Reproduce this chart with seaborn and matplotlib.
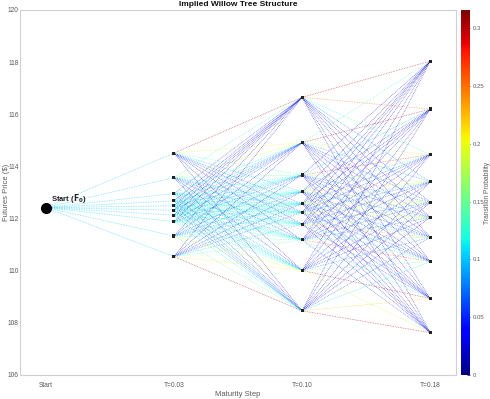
import numpy as np
import pandas as pd
import matplotlib
matplotlib.use("Agg")
import matplotlib.pyplot as plt
import seaborn as sns

# ---------------- data ----------------
steps = ["Start", "T=0.03", "T=0.10", "T=0.18"]

start_price = [112.42]
nodes_t003 = [114.51, 113.57, 112.96, 112.68, 112.49, 112.32, 112.13, 111.88, 111.33, 110.54]
nodes_t010 = [116.65, 114.91, 113.67, 113.03, 112.57, 112.24, 111.78, 111.18, 110.01, 108.46]
nodes_t018 = [118.04, 116.20, 114.46, 113.41, 112.62, 112.04, 111.28, 110.35, 108.93, 107.62]

# start -> T=0.03
p_start = [0.10, 0.10, 0.10, 0.10, 0.10, 0.10, 0.10, 0.10, 0.10, 0.10]

# T=0.03 -> T=0.10 (rows: from node, top to bottom)
p_step1 = [
    [0.30, 0.20, 0.14, 0.10, 0.07, 0.06, 0.05, 0.04, 0.02, 0.02],
    [0.13, 0.20, 0.14, 0.12, 0.10, 0.09, 0.08, 0.06, 0.05, 0.03],
    [0.05, 0.12, 0.13, 0.12, 0.11, 0.11, 0.11, 0.10, 0.09, 0.06],
    [0.04, 0.09, 0.12, 0.12, 0.12, 0.12, 0.11, 0.10, 0.10, 0.08],
    [0.03, 0.08, 0.11, 0.12, 0.13, 0.13, 0.12, 0.11, 0.10, 0.07],
    [0.03, 0.07, 0.10, 0.12, 0.13, 0.13, 0.12, 0.12, 0.11, 0.07],
    [0.03, 0.06, 0.09, 0.11, 0.12, 0.13, 0.13, 0.12, 0.12, 0.09],
    [0.02, 0.05, 0.08, 0.10, 0.11, 0.12, 0.13, 0.14, 0.13, 0.12],
    [0.02, 0.04, 0.06, 0.08, 0.09, 0.10, 0.12, 0.14, 0.20, 0.15],
    [0.02, 0.02, 0.04, 0.05, 0.06, 0.07, 0.10, 0.14, 0.20, 0.30],
]

# T=0.10 -> T=0.18
p_step2 = [
    [0.30, 0.25, 0.13, 0.08, 0.05, 0.04, 0.03, 0.03, 0.02, 0.02],
    [0.14, 0.30, 0.18, 0.09, 0.06, 0.05, 0.04, 0.03, 0.02, 0.02],
    [0.03, 0.10, 0.27, 0.17, 0.08, 0.06, 0.05, 0.04, 0.03, 0.03],
    [0.02, 0.05, 0.14, 0.21, 0.17, 0.09, 0.06, 0.05, 0.03, 0.03],
    [0.02, 0.03, 0.07, 0.15, 0.20, 0.17, 0.08, 0.05, 0.03, 0.02],
    [0.02, 0.03, 0.05, 0.08, 0.17, 0.20, 0.15, 0.07, 0.04, 0.03],
    [0.02, 0.03, 0.04, 0.06, 0.08, 0.17, 0.22, 0.13, 0.06, 0.03],
    [0.02, 0.03, 0.03, 0.04, 0.06, 0.08, 0.15, 0.26, 0.14, 0.06],
    [0.02, 0.02, 0.03, 0.03, 0.04, 0.05, 0.08, 0.15, 0.30, 0.19],
    [0.02, 0.02, 0.02, 0.03, 0.03, 0.04, 0.06, 0.11, 0.22, 0.30],
]

# ---------------- style ----------------
sns.set_style("white")
plt.rcParams["font.family"] = ["Liberation Sans", "DejaVu Sans"]
txt = "#5a5a5a"

fig = plt.figure(figsize=(4.9, 3.99), dpi=100)
ax = fig.add_axes([0.0408, 0.0602, 0.8898, 0.9148])
cax = fig.add_axes([0.9408, 0.0602, 0.0184, 0.9148])

cmap = plt.get_cmap("jet")
norm = matplotlib.colors.Normalize(vmin=0, vmax=0.316)

layers = [start_price, nodes_t003, nodes_t010, nodes_t018]
probs = [[p_start], p_step1, p_step2]

#------------------- edges -------------------
for k in range(3):
    src = layers[k]
    dst = layers[k + 1]
    for i, y0 in enumerate(src):
        for j, y1 in enumerate(dst):
            p = probs[k][i][j]
            ax.plot([k, k + 1], [y0, y1], linestyle=(0, (1, 1.2)),
                    linewidth=0.55, color=cmap(norm(p)), alpha=0.6, zorder=2)

#------------------- nodes -------------------
node_df = pd.DataFrame({
    "step": np.concatenate([np.full(len(l), i) for i, l in enumerate(layers[1:], start=1)]),
    "price": np.concatenate(layers[1:]),
})
sns.scatterplot(data=node_df, x="step", y="price", marker="s", s=5,
                color="#222222", edgecolor="none", ax=ax, zorder=4)
ax.plot([0], start_price, "o", color="black", markersize=7, zorder=5)
ax.text(0.04, 112.68, r"Start ($\mathbf{F_0}$)", fontsize=5.5,
        fontweight="bold", color="#222222", zorder=6)

#------------------- axes -------------------
ax.set_xlim(-0.2, 3.2)
ax.set_ylim(106, 120)
ax.set_xticks(range(4))
ax.set_xticklabels(steps)
ax.set_yticks(np.arange(106, 121, 2))
ax.set_xticks([2, 3], minor=True)
ax.set_yticks([110, 112, 114, 116], minor=True)
ax.tick_params(which="major", length=0, labelsize=4.8, labelcolor=txt, pad=1)
ax.tick_params(axis="x", which="major", pad=5)
ax.tick_params(which="minor", length=3, width=0.8, color="#222222",
               direction="in", top=True, right=True, left=True, bottom=True)
ax.grid(which="minor", color="#dddddd", linewidth=0.8, zorder=0)
ax.set_axisbelow(True)
for s in ax.spines.values():
    s.set_color("#d0d0d0")
    s.set_linewidth(0.8)

ax.set_title("Implied Willow Tree Structure", fontsize=6, fontweight="bold",
             color="#111111", pad=3)
ax.set_xlabel("Maturity Step", fontsize=5.5, color=txt)
ax.xaxis.set_label_coords(0.5, -0.045)
ax.set_ylabel("Futures Price ($)", fontsize=5.5, color=txt)
ax.yaxis.set_label_coords(-0.024, 0.5)

#------------------- colorbar -------------------
sm = matplotlib.cm.ScalarMappable(norm=norm, cmap=cmap)
cb = fig.colorbar(sm, cax=cax)
cb.outline.set_visible(False)
cb.set_ticks([0, 0.05, 0.1, 0.15, 0.2, 0.25, 0.3])
cb.set_ticklabels(["0", "0.05", "0.1", "0.15", "0.2", "0.25", "0.3"])
cb.ax.tick_params(labelsize=4.3, labelcolor=txt, length=2, width=0.6,
                  color="#333333", direction="in", pad=2)
cb.set_label("Transition Probability", fontsize=4.8, color=txt)
cax.yaxis.set_label_coords(2.6, 0.5)

plt.savefig("out.png", dpi=100)
plt.close()
